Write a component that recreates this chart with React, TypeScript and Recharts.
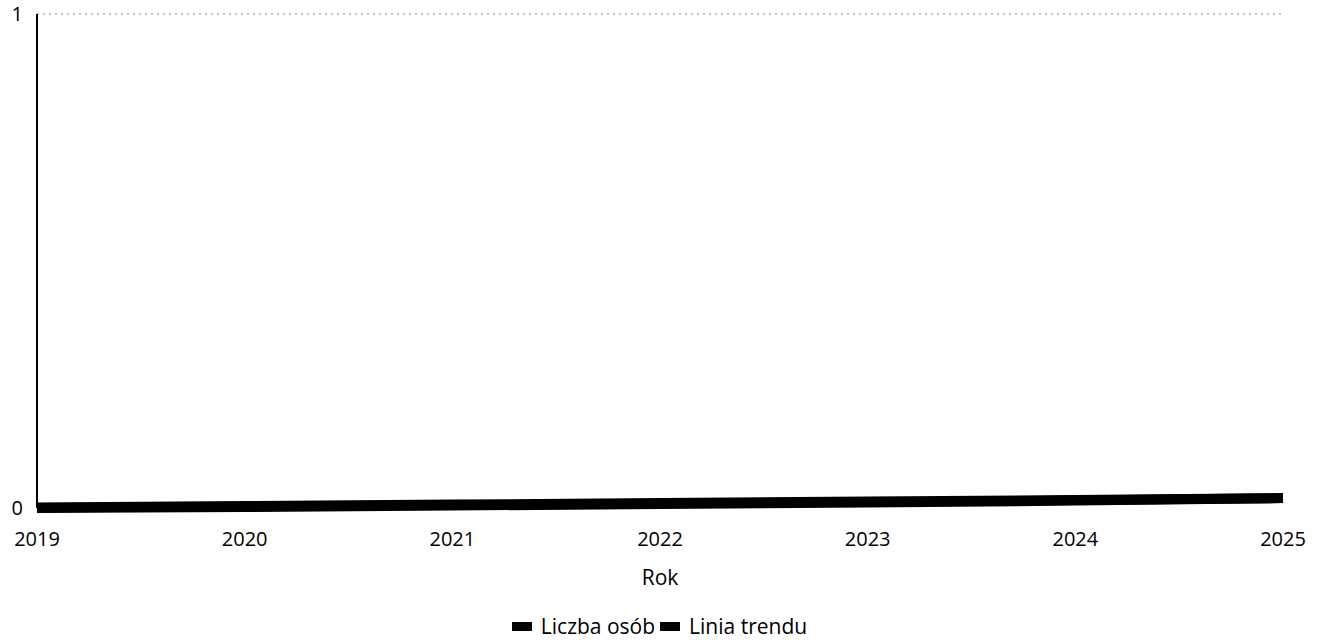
import { LineChart, Line, XAxis, YAxis, Legend, ReferenceLine } from "recharts";

// Rok (x axis) categories
const years = ["2019", "2020", "2021", "2022", "2023", "2024", "2025"];
// Liczba osób – values sit right on the zero line
const liczbaOsob = [0, 0.002, 0.005, 0.008, 0.011, 0.015, 0.02];
// Linia trendu
const liniaTrendu = [0.001, 0.004, 0.007, 0.01, 0.013, 0.016, 0.02];
const yTicks = [0, 1];

const data = years.map((rok, i) => ({
  rok,
  liczba: liczbaOsob[i],
  trend: liniaTrendu[i],
}));

const FONT = "'Open Sans', 'Noto Sans', sans-serif";

// legend with the wide flat black boxes of the original
function FlatLegend({ payload }: { payload?: { value: string; color: string }[] }) {
  if (!payload) return null;
  return (
    <div
      style={{
        display: "flex",
        justifyContent: "center",
        gap: 5,
        fontSize: 21,
        color: "#000",
        marginLeft: 36,
        lineHeight: "26px",
      }}
    >
      {payload.map((p) => (
        <div key={p.value} style={{ display: "flex", alignItems: "center", gap: 9 }}>
          <span style={{ display: "inline-block", width: 20, height: 9, background: p.color }} />
          <span>{p.value}</span>
        </div>
      ))}
    </div>
  );
}

export default function App() {
  return (
    <div style={{ position: "absolute", left: 0, top: 0, width: 1319, height: 643, background: "#fff" }}>
      <LineChart
        width={1319}
        height={643}
        data={data}
        margin={{ top: 14, right: 36, left: 0, bottom: 4 }}
        style={{ fontFamily: FONT }}
      >
        <XAxis
          dataKey="rok"
          axisLine={false}
          tickLine={false}
          tickSize={6}
          tickMargin={18}
          height={105}
          tick={{ fill: "#000", fontSize: 20 }}
          label={{ value: "Rok", position: "insideBottom", offset: 28, fill: "#000", fontSize: 21 }}
        />
        <YAxis
          domain={[0, 1]}
          ticks={yTicks}
          width={37}
          stroke="#000"
          strokeWidth={2}
          tickLine={false}
          tickSize={6}
          tickMargin={8}
          tick={{ fill: "#000", fontSize: 20 }}
        />
        <ReferenceLine y={1} stroke="#888" strokeDasharray="2 4" />
        <Legend verticalAlign="bottom" content={<FlatLegend />} />
        <Line
          type="linear"
          dataKey="liczba"
          name="Liczba osób"
          stroke="#000"
          strokeWidth={10}
          dot={false}
          legendType="rect"
          isAnimationActive={false}
        />
        <Line
          type="linear"
          dataKey="trend"
          name="Linia trendu"
          stroke="#000"
          strokeWidth={10}
          dot={false}
          legendType="rect"
          isAnimationActive={false}
        />
      </LineChart>
    </div>
  );
}
